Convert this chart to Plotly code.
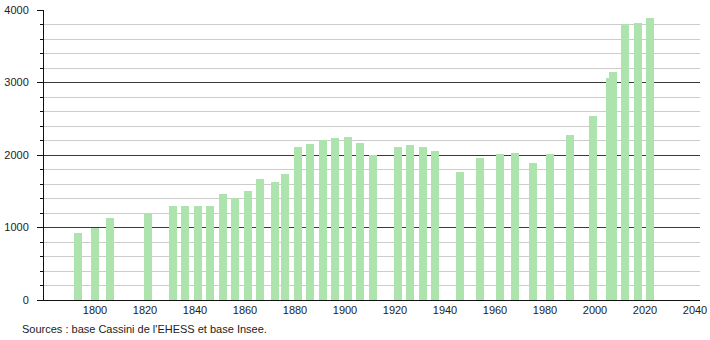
import plotly.graph_objects as go

years = [1793, 1800, 1806, 1821, 1831, 1836, 1841, 1846, 1851, 1856, 1861, 1866,
         1872, 1876, 1881, 1886, 1891, 1896, 1901, 1906, 1911, 1921, 1926, 1931,
         1936, 1946, 1954, 1962, 1968, 1975, 1982, 1990, 1999, 2006, 2007, 2012,
         2017, 2022]
population = [920, 1000, 1135, 1200, 1301, 1295, 1301, 1301, 1462, 1402, 1503, 1664,
              1623, 1738, 2115, 2152, 2207, 2234, 2248, 2161, 1995, 2115, 2138, 2115,
              2051, 1770, 1963, 2014, 2023, 1885, 2014, 2276, 2538, 3066, 3149, 3807,
              3821, 3892]
x_ticks = [1800, 1820, 1840, 1860, 1880, 1900, 1920, 1940, 1960, 1980, 2000, 2020, 2040]
y_ticks = [0, 1000, 2000, 3000, 4000]
source_text = "Sources : base Cassini de l'EHESS et base Insee."

fig = go.Figure()
fig.add_trace(go.Bar(
    x=years, y=population, width=3.2,
    marker=dict(color="#ade3ad", line=dict(width=0)),
    hoverinfo="x+y",
))

fig.update_layout(
    width=710, height=340,
    margin=dict(l=44, r=10, t=10, b=40, autoexpand=False),
    paper_bgcolor="white", plot_bgcolor="white",
    font=dict(family="Liberation Sans, Arial, sans-serif", size=11, color="#222"),
    showlegend=False,
    bargap=0,
    xaxis=dict(
        range=[1779.6, 2042], tickvals=x_ticks, ticktext=[str(t) for t in x_ticks],
        showgrid=False, zeroline=False, showline=True, linecolor="#111", linewidth=1,
        ticks="", tickfont=dict(size=11), automargin=False,
    ),
    yaxis=dict(
        range=[0, 4000], tickvals=y_ticks, ticktext=[str(t) for t in y_ticks],
        showgrid=True, gridcolor="#3a3a3a", gridwidth=1,
        zeroline=False, showline=True, linecolor="#111", linewidth=1,
        ticks="outside", ticklen=6, tickcolor="#111", tickwidth=1,
        ticklabelstandoff=6, automargin=False,
        minor=dict(dtick=200, tick0=0, showgrid=True, gridcolor="#cccccc", gridwidth=1,
                   ticks="outside", ticklen=3, tickcolor="#111"),
    ),
    annotations=[dict(
        text=source_text, xref="paper", yref="paper", x=-24/656, y=-29/290,
        xanchor="left", yanchor="middle", showarrow=False,
        font=dict(size=11, color="#222"),
    )],
)

fig.write_html("out.html")
